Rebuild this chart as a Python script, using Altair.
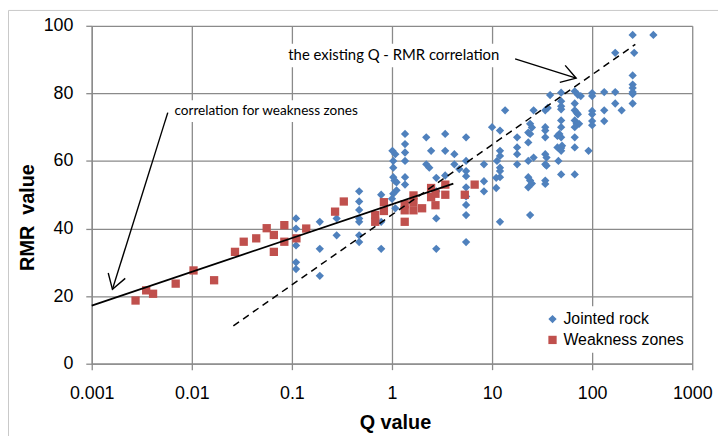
import altair as alt
import pandas as pd

# ---------------- data ----------------
blue_q = [0.11, 0.11, 0.11, 0.11, 0.11,
          0.19, 0.19, 0.19,
          0.28, 0.28,
          0.47, 0.47, 0.47, 0.47, 0.47, 0.47, 0.47,
          0.78, 0.78, 0.78,
          1.01, 1.08, 1.03, 1.03, 1.03, 1.06, 1.11, 1.11, 1.03, 1.08, 1.0,
          1.35, 1.35, 1.35, 1.35, 1.35, 1.35,
          2.2, 2.2, 2.36, 2.46,
          2.77, 2.77, 2.77, 2.77,
          3.4, 3.4, 3.4,
          4.2, 4.2, 4.7,
          5.5, 5.5, 5.5, 5.5, 5.5, 5.5, 5.5, 5.5, 5.5,
          8.3, 8.3, 8.3,
          10, 12, 12, 11.2, 12, 12, 12, 11, 12, 11, 12,
          13.5,
          17.8, 17.8, 17.8, 17.8,
          24, 23, 23, 23, 26, 23, 24, 25, 23, 24, 26, 25, 24,
          34, 36, 34, 34, 34, 34, 35, 34, 35, 34, 34,
          38,
          49, 49, 49, 49, 49, 49, 47, 49, 45, 45, 49, 50, 46, 49, 49,
          67, 72, 77, 67, 67, 70, 72, 67, 70, 74, 67, 67, 67, 67,
          92,
          100, 100, 100, 100, 100, 100,
          132, 132, 132,
          170, 170, 170,
          197,
          254, 263, 254, 254, 254, 254, 254, 254,
          409]
blue_rmr = [43, 40, 35, 30, 28,
            42, 34, 26,
            43, 38,
            51, 48, 45.5, 43, 42, 38, 36,
            50, 42, 34,
            63, 62, 60, 58, 55.2, 54.2, 53.7, 51.3, 50.3, 46, 48.8,
            68, 65, 62.5, 60, 55.2, 53,
            67, 59, 58, 63,
            55, 51, 43, 34,
            68, 63, 55.7,
            62, 59, 57.6,
            67, 60, 57, 55.5, 52.2, 49.5, 47, 44, 36,
            59, 54, 51,
            70, 69, 63, 60, 61.5, 58, 57, 55, 55.2, 52, 42,
            75,
            67, 64, 62, 59,
            71, 68.4, 65.5, 60, 61, 55.2, 54.2, 53.3, 52.2, 44, 75, 69.9, 68,
            75, 75.7, 70, 69, 67, 62, 61, 59, 58.6, 54.2, 53.2,
            79.5,
            80.2, 77.7, 76.2, 75.3, 72, 70, 68, 67, 67.4, 64, 63.8, 64.5, 60, 56, 63,
            80.6, 79.6, 79.2, 77, 75, 74.3, 73.8, 72, 71, 71, 70, 67, 64, 56,
            63,
            80.1, 79.2, 74.8, 73.8, 71.8, 70.6,
            80.4, 75, 71.8,
            80.4, 92, 77,
            75,
            97.3, 92, 85.3, 82.6, 81.6, 80.4, 79.8, 77,
            97.3]

red_q = [0.00274, 0.0035, 0.0041, 0.0069, 0.0104, 0.0167, 0.027, 0.033, 0.044,
         0.056, 0.066, 0.066, 0.084, 0.084, 0.111, 0.139, 0.27, 0.33, 0.68, 0.68,
         0.83, 0.83, 1.34, 1.34, 1.34, 1.64, 1.64, 1.64, 2.0, 2.46, 2.46, 2.72,
         2.72, 3.41, 3.41, 5.34, 6.7]
red_rmr = [18.7, 21.7, 20.7, 23.7, 27.6, 24.7, 33.1, 36.1, 37.1,
           40.1, 38.1, 33.1, 41.0, 36.1, 37.1, 40.0, 45, 48, 44, 42,
           47.8, 45.2, 47.2, 45.4, 42, 49.8, 47.8, 45.4, 46, 52, 49.3, 50.3,
           46.9, 53, 50, 50, 53]

series_names = ["Jointed rock", "Weakness zones"]
series_colors = ["#4F81BD", "#C0504D"]
series_shapes = ["diamond", "square"]

# regression lines (end points)
weak_line_q = [0.001, 4.1]
weak_line_rmr = [17.2, 53.3]
exist_line_q = [0.026, 270]
exist_line_rmr = [11.2, 94.5]

x_ticks = [0.001, 0.01, 0.1, 1, 10, 100, 1000]
y_ticks = [0, 20, 40, 60, 80, 100]

# annotations
ann_text = ["correlation for weakness zones", "the existing Q - RMR correlation"]
ann_size = [13.7, 15]
ann_q = [0.0067, 0.092]
ann_rmr = [74.8, 91.4]
box_q1 = [0.0061, 0.086]
box_q2 = [0.47, 12.1]
box_r1 = [78.0, 94.7]
box_r2 = [71.5, 87.7]
arrow_q_start = [0.00575, 17.0]
arrow_r_start = [74.3, 90.2]
arrow_q_tip = [0.00161, 69.2]
arrow_r_tip = [22.0, 84.5]
arrow_angle = [17.5, 287.5]

# ---------------- tables ----------------
pts = pd.concat([
    pd.DataFrame({"Q": blue_q, "RMR": blue_rmr, "series": series_names[0]}),
    pd.DataFrame({"Q": red_q, "RMR": red_rmr, "series": series_names[1]}),
])
weak_df = pd.DataFrame({"Q": weak_line_q, "RMR": weak_line_rmr})
exist_df = pd.DataFrame({"Q": exist_line_q, "RMR": exist_line_rmr})
ann_df = pd.DataFrame({"Q": ann_q, "RMR": ann_rmr, "text": ann_text, "fs": ann_size,
                       "q1": box_q1, "q2": box_q2, "r1": box_r1, "r2": box_r2})
arrow_df = pd.DataFrame({"Q": arrow_q_start, "RMR": arrow_r_start,
                         "q2": arrow_q_tip, "r2": arrow_r_tip, "ang": arrow_angle})

FONT = "Liberation Sans"
GRID = "#8a8a8a"

xscale = alt.Scale(type="log", domain=[0.001, 1000], nice=False)
yscale = alt.Scale(domain=[0, 100], nice=False)

xaxis = alt.Axis(values=x_ticks, labelExpr="'' + datum.value", grid=True,
                 gridColor=GRID, gridWidth=1.3, domainColor=GRID, domainWidth=1.3,
                 tickColor=GRID, tickSize=6, tickWidth=1.3,
                 labelFont=FONT, labelFontSize=18, labelColor="black", labelPadding=15,
                 labelFlush=False, labelOverlap=False,
                 title="Q value", titleFont=FONT, titleFontSize=20, titleFontWeight="bold",
                 titleColor="black", titlePadding=10, titleX=306)
yaxis = alt.Axis(values=y_ticks, grid=True,
                 gridColor=GRID, gridWidth=1.3, domainColor=GRID, domainWidth=1.3,
                 tickColor=GRID, tickSize=6, tickWidth=1.3,
                 labelFont=FONT, labelFontSize=18, labelColor="black", labelPadding=13,
                 labelFlush=False,
                 title="RMR\u00a0\u00a0value", titleFont=FONT, titleFontSize=20, titleFontWeight="bold",
                 titleColor="black", titlePadding=6, titleY=193)

X = lambda f="Q": alt.X(f"{f}:Q", scale=xscale, axis=xaxis)
Y = lambda f="RMR": alt.Y(f"{f}:Q", scale=yscale, axis=yaxis)

legend = alt.Legend(title=None, orient="none", legendX=452, legendY=283,
                    fillColor="white", padding=5, labelFont=FONT, labelFontSize=16,
                    labelColor="black", symbolSize=72, symbolStrokeWidth=0,
                    rowPadding=5, labelOffset=3)

points = alt.Chart(pts).mark_point(filled=True, opacity=1, strokeWidth=0).encode(
    x=X(), y=Y(),
    color=alt.Color("series:N", scale=alt.Scale(domain=series_names, range=series_colors), legend=legend),
    shape=alt.Shape("series:N", scale=alt.Scale(domain=series_names, range=series_shapes), legend=legend),
    size=alt.Size("series:N", scale=alt.Scale(domain=series_names, range=[70, 70]), legend=None),
    order=alt.Order("series:N"),
)

weak_line = alt.Chart(weak_df).mark_line(color="black", strokeWidth=1.8).encode(x=X(), y=Y())
exist_line = alt.Chart(exist_df).mark_line(color="black", strokeWidth=1.5, strokeDash=[7, 5]).encode(x=X(), y=Y())

boxes = alt.Chart(ann_df).mark_rect(color="white").encode(
    x=X("q1"), x2="q2", y=Y("r1"), y2="r2")
texts = alt.Chart(ann_df).mark_text(align="left", baseline="middle", font="Lato",
                                     color="black").encode(
    x=X(), y=Y(), text="text:N", size=alt.Size("fs:Q", scale=None, legend=None))

arrow_lines = alt.Chart(arrow_df).mark_rule(color="black", strokeWidth=1.4).encode(
    x=X(), y=Y(), x2="q2", y2="r2")
arrow_heads = alt.Chart(arrow_df).mark_point(
    shape="M-0.53,-0.85L0,0L0.53,-0.85", filled=False, color="black",
    strokeWidth=1.4, size=1156, opacity=1).encode(
    x=X("q2"), y=Y("r2"), angle=alt.Angle("ang:Q", scale=None))

frame_df = pd.DataFrame({"a": [0]})
frame_top = alt.Chart(frame_df).mark_rule(color="#c8c8c8", strokeWidth=1).encode(
    x=alt.value(-84), x2=alt.value(640), y=alt.value(-15.5))
frame_left = alt.Chart(frame_df).mark_rule(color="#c8c8c8", strokeWidth=1).encode(
    x=alt.value(-84), y=alt.value(-15.5), y2=alt.value(420))

chart = alt.layer(
    frame_top, frame_left, boxes, points, weak_line, exist_line, arrow_lines, arrow_heads, texts
).properties(
    width=606, height=341,
    autosize=alt.AutoSizeParams(type="none"),
    padding={"left": 84.5, "top": 16, "right": 26, "bottom": 72},
    background="white",
).configure_view(stroke=None)

chart.save("out.html", embed_options={"renderer": "svg", "actions": False})
